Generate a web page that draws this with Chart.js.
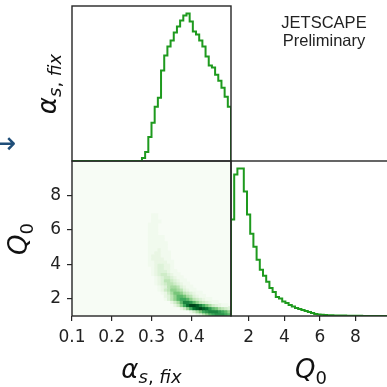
<!DOCTYPE html>
<html>
<head>
<meta charset="utf-8">
<script src="https://cdn.jsdelivr.net/npm/chart.js@4.4.0/dist/chart.umd.min.js"></script>
<style>
html, body { margin: 0; padding: 0; background: #fff; width: 387px; height: 387px; overflow: hidden; }
#wrap { position: relative; width: 387px; height: 387px; overflow: hidden; }
canvas { position: absolute; left: 0; top: 0; }
.lbl { position: absolute; font-family: 'DejaVu Sans'; color: #111; white-space: nowrap; line-height: 26px; font-size: 26px; }
.lbl i { font-style: italic; }
.sub { position: relative; font-size: 18px; }
.rot { transform: translate(-50%, -50%) rotate(-90deg); }
.hor { transform: translateX(-50%); }
#tag { position: absolute; left: 324px; top: 13px; transform: translateX(-50%); font-family: 'Liberation Sans'; font-size: 16.5px; line-height: 18px; color: #222; text-align: center; }
#arrow { position: absolute; left: -9px; top: 128px; font-family: 'DejaVu Sans'; font-size: 30px; line-height: 30px; color: #1f4e79; }
</style>
</head>
<body>
<div id="wrap">
  <canvas id="heat" width="387" height="387"></canvas>
  <canvas id="histA" width="387" height="387"></canvas>
  <canvas id="histQ" width="400" height="387"></canvas>

  <div class="lbl rot" style="left:48px; top:83.5px;"><i>α</i><span class="sub" style="top:5px;"><i>s</i>, <i>fix</i></span></div>
  <div class="lbl rot" style="left:19px; top:238.5px;"><i>Q</i><span class="sub" style="top:6px;">0</span></div>
  <div class="lbl hor" style="left:151.5px; top:356px;"><i>α</i><span class="sub" style="top:5px;"><i>s</i>, <i>fix</i></span></div>
  <div class="lbl hor" style="left:311px; top:356px;"><i>Q</i><span class="sub" style="top:6px;">0</span></div>
  <div id="tag">JETSCAPE<br>Preliminary</div>
  <div id="arrow">→</div>
</div>

<script>
// binning used for all panels
const alphaRange = [0.1, 0.5];
const q0Range = [1, 10];
const nBins = 50;

const alphaTicks = [0.1, 0.2, 0.3, 0.4];
const alphaTickLabels = ["0.1", "0.2", "0.3", "0.4"];
const q0Ticks = [2, 4, 6, 8];
const q0TickLabels = ["2", "4", "6", "8"];

// marginal of alpha_s,fix (counts per bin, 50 bins)
const alphaCounts = [
  0, 0, 0, 0, 0, 0, 0, 0, 0, 0, 0, 0, 0, 0, 0, 0, 0, 0, 0, 0, 0, 0,
  3, 9, 24, 38, 54, 63, 90, 105, 114, 120, 128, 134, 140, 145, 147, 139,
  129, 126, 120, 114, 104, 95, 93, 86, 80, 73, 64, 54
];

// marginal of Q0 (counts per bin, 50 bins)
const q0Counts = [
  96, 141, 147, 147, 124, 101, 82, 69, 56, 46, 40, 34, 28, 24, 19, 17.5,
  14.5, 13, 11, 9.5, 8, 7, 6, 5, 4, 3, 2, 1.5, 1.2, 1, 0.8, 0.7, 0.6, 0.5,
  0.4, 0.4, 0.3, 0.3, 0.2, 0.2, 0.2, 0.1, 0.1, 0.1, 0.1, 0.1, 0.1, 0.1, 0, 0
];

// joint density, one string per Q0 bin (bottom first), hex level 0-f
// for alpha bins 20..49
const heatCol0 = 20;
const heatRows = [
  "000000000000000000023579abbba9",
  "000000000000000002468abcccba97",
  "00000000000000247adefedb986543",
  "000000000000247adffeca86432110",
  "000000000002469ccb975432110000",
  "00000000013579aa97543211000000",
  "000000000235799865321100000000",
  "000000001246887543211000000000",
  "000000012457765321100000000000",
  "000000012356653211000000000000",
  "000000123455432110000000000000",
  "000000123554321100000000000000",
  "000000123443211000000000000000",
  "000001234432110000000000000000",
  "000001233321100000000000000000",
  "000001233221000000000000000000",
  "000011233221000000000000000000",
  "000011222211000000000000000000",
  "000012222110000000000000000000",
  "000012221110000000000000000000",
  "000011221110000000000000000000",
  "000011121100000000000000000000",
  "000011111100000000000000000000",
  "000011111100000000000000000000",
  "000011111000000000000000000000",
  "000011111000000000000000000000",
  "000011100000000000000000000000",
  "000011100000000000000000000000",
  "000011100000000000000000000000",
  "000011100000000000000000000000",
  "000001110000000000000000000000",
  "000001100000000000000000000000",
  "000001100000000000000000000000"
];
const heatMaxLevel = 15;
const heatGamma = 1.15;

// matplotlib "Greens"
const greensStops = ["#f7fcf5", "#e5f5e0", "#c7e9c0", "#a1d99b", "#74c476", "#41ab5d", "#238b45", "#006d2c", "#00441b"];
function greens(t) {
  const p = Math.min(Math.max(t, 0), 1) * (greensStops.length - 1);
  const i = Math.min(Math.floor(p), greensStops.length - 2);
  const f = p - i;
  const a = greensStops[i], b = greensStops[i + 1];
  const c = [1, 3, 5].map(k => {
    const va = parseInt(a.substr(k, 2), 16), vb = parseInt(b.substr(k, 2), 16);
    return Math.round(va + (vb - va) * f);
  });
  return `rgb(${c[0]},${c[1]},${c[2]})`;
}

const edges = (r) => Array.from({ length: nBins + 1 }, (_, k) => r[0] + k * (r[1] - r[0]) / nBins);
const alphaEdges = edges(alphaRange);
const q0Edges = edges(q0Range);

function stepPoints(e, counts) {
  const pts = [{ x: e[0], y: 0 }];
  counts.forEach((c, k) => pts.push({ x: e[k], y: c }));
  pts.push({ x: e[e.length - 1], y: 0 });
  return pts;
}

const lineColor = "#1e9a1e";
const axisColor = "#262626";
Chart.defaults.font.family = "'DejaVu Sans'";
Chart.defaults.color = "#222";

const framePlugin = {
  id: "frame",
  afterDatasetsDraw(chart) {
    const { ctx, chartArea: a } = chart;
    ctx.save();
    ctx.strokeStyle = axisColor;
    ctx.lineWidth = 1.4;
    ctx.strokeRect(a.left, a.top, a.right - a.left, a.bottom - a.top);
    ctx.restore();
  }
};

const bgPlugin = {
  id: "bg",
  beforeDraw(chart) {
    const { ctx, chartArea: a } = chart;
    ctx.save();
    ctx.fillStyle = greens(0);
    ctx.fillRect(a.left, a.top, a.right - a.left, a.bottom - a.top);
    ctx.restore();
  }
};

const baseOpts = {
  responsive: false,
  animation: false,
  events: [],
  plugins: { legend: { display: false }, tooltip: { enabled: false } }
};

function tickAxis(range, ticks, labels, fitSize, isX) {
  return {
    type: "linear",
    min: range[0],
    max: range[1],
    offset: false,
    border: { display: false },
    grid: { drawOnChartArea: false, drawTicks: true, tickLength: 5, color: axisColor, lineWidth: 1.2, offset: false },
    ticks: {
      autoSkip: false, maxRotation: 0, padding: 6,
      font: { size: 17 }, color: "#222",
      callback: (v, i) => labels[i]
    },
    afterBuildTicks: (s) => { s.ticks = ticks.map(v => ({ value: v })); },
    afterFit: (s) => { if (isX) s.height = fitSize; else s.width = fitSize; }
  };
}

// joint density cells
const cells = [];
const cellColors = [];
heatRows.forEach((row, j) => {
  for (let c = 0; c < row.length; c++) {
    const v = parseInt(row[c], 16);
    if (!v) continue;
    const i = heatCol0 + c;
    cells.push({ x: (alphaEdges[i] + alphaEdges[i + 1]) / 2, y: [q0Edges[j], q0Edges[j + 1]] });
    cellColors.push(greens(Math.pow(v / heatMaxLevel, heatGamma)));
  }
});

new Chart(document.getElementById("heat"), {
  type: "bar",
  data: {
    datasets: [{
      data: cells,
      backgroundColor: cellColors,
      borderWidth: 0,
      barPercentage: 1,
      categoryPercentage: 1,
      inflateAmount: 0.4
    }]
  },
  options: {
    ...baseOpts,
    layout: { padding: { left: 0, top: 161, right: 156, bottom: 31 } },
    scales: {
      x: tickAxis(alphaRange, alphaTicks, alphaTickLabels, 40, true),
      y: tickAxis(q0Range, q0Ticks, q0TickLabels, 72, false)
    }
  },
  plugins: [bgPlugin, framePlugin]
});

const alphaMax = Math.max(...alphaCounts) * 1.05;
new Chart(document.getElementById("histA"), {
  type: "line",
  data: {
    datasets: [{
      data: stepPoints(alphaEdges, alphaCounts),
      stepped: "before",
      borderColor: lineColor,
      borderWidth: 2,
      pointRadius: 0,
      fill: false
    }]
  },
  options: {
    ...baseOpts,
    layout: { padding: { left: 72, top: 6, right: 156, bottom: 226 } },
    scales: {
      x: { type: "linear", min: alphaRange[0], max: alphaRange[1], display: false },
      y: { min: 0, max: alphaMax, display: false }
    }
  },
  plugins: [framePlugin]
});

const q0Max = Math.max(...q0Counts) * 1.05;
new Chart(document.getElementById("histQ"), {
  type: "line",
  data: {
    datasets: [{
      data: stepPoints(q0Edges, q0Counts),
      stepped: "before",
      borderColor: lineColor,
      borderWidth: 2,
      pointRadius: 0,
      fill: false
    }]
  },
  options: {
    ...baseOpts,
    layout: { padding: { left: 231, top: 161, right: 9, bottom: 31 } },
    scales: {
      x: tickAxis(q0Range, q0Ticks, q0TickLabels, 40, true),
      y: { min: 0, max: q0Max, display: false }
    }
  },
  plugins: [framePlugin]
});
</script>
</body>
</html>
